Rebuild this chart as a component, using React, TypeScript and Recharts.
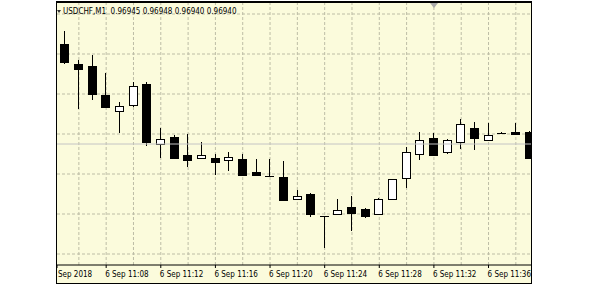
import React from "react";
import { ComposedChart, Bar, XAxis, YAxis, CartesianGrid, ReferenceLine } from "recharts";

// M1 candles 6 Sep 2018 11:05 .. 11:39
const minutes = ["11:05","11:06","11:07","11:08","11:09","11:10","11:11","11:12","11:13","11:14","11:15","11:16","11:17","11:18","11:19","11:20","11:21","11:22","11:23","11:24","11:25","11:26","11:27","11:28","11:29","11:30","11:31","11:32","11:33","11:34","11:35","11:36","11:37","11:38","11:39"];
const opens = [0.96990, 0.96980, 0.96979, 0.969645, 0.969565, 0.969595, 0.96970, 0.96940, 0.969435, 0.969345, 0.96933, 0.96933, 0.96932, 0.969325, 0.96926, 0.96924, 0.969235, 0.969125, 0.96915, 0.96904, 0.96905, 0.969085, 0.969075, 0.96905, 0.969125, 0.96923, 0.96935, 0.96943, 0.96936, 0.96941, 0.96948, 0.96942, 0.969455, 0.96946, 0.96946];
const highs = [0.969965, 0.96982, 0.969845, 0.969755, 0.96961, 0.96971, 0.96971, 0.96948, 0.969445, 0.96945, 0.96941, 0.96935, 0.96936, 0.96935, 0.969325, 0.969325, 0.969315, 0.96917, 0.969155, 0.96904, 0.969125, 0.96914, 0.96908, 0.96913, 0.969225, 0.969385, 0.96946, 0.969455, 0.969425, 0.969525, 0.96951, 0.969505, 0.96946, 0.969505, 0.969465];
const lows = [0.96980, 0.969575, 0.96962, 0.96958, 0.969455, 0.969585, 0.96939, 0.96933, 0.969325, 0.969285, 0.96933, 0.969245, 0.969265, 0.969245, 0.96924, 0.96924, 0.96912, 0.969125, 0.969035, 0.96888, 0.96905, 0.968965, 0.96903, 0.96905, 0.969125, 0.96918, 0.96932, 0.969345, 0.96935, 0.969375, 0.96937, 0.969415, 0.96945, 0.969445, 0.96933];
const closes = [0.96981, 0.969775, 0.96965, 0.969585, 0.96959, 0.96969, 0.96941, 0.969425, 0.96933, 0.96932, 0.969345, 0.96931, 0.969335, 0.969245, 0.969245, 0.96924, 0.96912, 0.96914, 0.96905, 0.96904, 0.96907, 0.969055, 0.96904, 0.969125, 0.969225, 0.96936, 0.96942, 0.969345, 0.96942, 0.96950, 0.96943, 0.969445, 0.969455, 0.96945, 0.96933];

const bidPrice = 0.9694;
const priceGrid = [0.96885, 0.96905, 0.96925, 0.96945, 0.96965, 0.96985, 0.97005];
const priceDomain = [0.968795, 0.97011];
const barDomain = [-0.6, 34.11];
const gridBars = [1, 3, 5, 7, 9, 11, 13, 15, 17, 19, 21, 23, 25, 27, 29, 31, 33];
const timeTickBars = [3, 7, 11, 15, 19, 23, 27, 31];
const timeTickLabels = ["6 Sep 11:08", "6 Sep 11:12", "6 Sep 11:16", "6 Sep 11:20", "6 Sep 11:24", "6 Sep 11:28", "6 Sep 11:32", "6 Sep 11:36"];
const firstLabel = "Sep 2018";
const headerText = "USDCHF,M1  0.96945 0.96948 0.96940 0.96940";

const data = minutes.map((m, i) => ({
  i,
  time: m,
  open: opens[i],
  high: highs[i],
  low: lows[i],
  close: closes[i],
  range: [lows[i], highs[i]],
}));

const FONT = "'DejaVu Sans Condensed', 'Liberation Sans', Arial, sans-serif";

const Candle = (props: any) => {
  const { x, y, width, height } = props;
  const p = props.payload || props;
  if (x == null || y == null) return null;
  const top = Math.min(y, y + height);
  const h = Math.abs(height);
  const span = p.high - p.low;
  const toY = (v: number) => (span === 0 ? top : top + ((p.high - v) / span) * h);
  const cx = x + width / 2;
  const bx = Math.round(cx - 4.5);
  const wx = bx + 4.5;
  const yo = toY(p.open);
  const yc = toY(p.close);
  const bt = Math.round(Math.min(yo, yc));
  const bb = Math.round(Math.max(yo, yc));
  const bull = p.close > p.open;
  const wTop = Math.round(top);
  const wBot = Math.round(top + h);
  return (
    <g>
      <line x1={wx} x2={wx} y1={wTop} y2={Math.max(wBot, wTop + 1)} stroke="#000" strokeWidth={1} />
      {bb - bt < 1 ? (
        <line x1={bx} x2={bx + 9} y1={bt + 0.5} y2={bt + 0.5} stroke="#000" strokeWidth={1} />
      ) : bull ? (
        <rect x={bx + 0.5} y={bt + 0.5} width={8} height={Math.max(bb - bt, 1)} fill="#fff" stroke="#000" strokeWidth={1} />
      ) : (
        <rect x={bx} y={bt} width={9} height={Math.max(bb - bt + 1, 1)} fill="#000" />
      )}
    </g>
  );
};

const TimeTick = (props: any) => {
  const { x, y, payload } = props;
  const v = payload.value;
  const idx = timeTickBars.indexOf(v);
  const label = idx >= 0 ? timeTickLabels[idx] : firstLabel;
  return (
    <text x={idx >= 0 ? x - 1 : x + 1} y={y + 7} fontSize={8} fontFamily={FONT} fill="#000" textAnchor="start">
      {label}
    </text>
  );
};

export default function App() {
  return (
    <div style={{ position: "absolute", left: 0, top: 0, width: 591, height: 287, background: "#fff", overflow: "hidden" }}>
      <div
        style={{
          position: "absolute",
          left: 56,
          top: 1,
          width: 476,
          height: 283,
          background: "#FBFBDC",
        }}
      />
      <div style={{ position: "absolute", left: 0, top: 0 }}>
        <ComposedChart width={591} height={287} data={data} margin={{ top: 2, right: 60, bottom: 4, left: 57 }}>
          <CartesianGrid
            stroke="#BDBDA6"
            strokeDasharray="3 2"
            verticalCoordinatesGenerator={(args: any) => {
              const xa = args && args.xAxis;
              if (xa && typeof xa.scale === "function") return gridBars.map((b) => xa.scale(b));
              const off = args.offset;
              return gridBars.map((b) => off.left + ((b - barDomain[0]) / (barDomain[1] - barDomain[0])) * off.width);
            }}
            horizontalCoordinatesGenerator={(args: any) => {
              const ya = args && args.yAxis;
              if (ya && typeof ya.scale === "function") return priceGrid.map((v) => ya.scale(v));
              const off = args.offset;
              return priceGrid.map((v) => off.top + ((priceDomain[1] - v) / (priceDomain[1] - priceDomain[0])) * off.height);
            }}
          />
          <XAxis
            dataKey="i"
            type="number"
            domain={barDomain}
            allowDataOverflow
            ticks={[barDomain[0], ...timeTickBars]}
            interval={0}
            height={18}
            tickSize={3}
            tickMargin={2}
            axisLine={{ stroke: "#000" }}
            tickLine={{ stroke: "#000" }}
            tick={<TimeTick />}
          />
          <YAxis
            type="number"
            domain={priceDomain}
            allowDataOverflow
            ticks={priceGrid}
            width={0}
            tick={false}
            axisLine={false}
            tickLine={false}
          />
          <ReferenceLine y={bidPrice} stroke="#C4C4C4" strokeWidth={1} />
          <Bar dataKey="range" barSize={9} shape={<Candle />} isAnimationActive={false} />
        </ComposedChart>
      </div>
      <div
        style={{
          position: "absolute",
          left: 56,
          top: 1,
          width: 476,
          height: 283,
          boxSizing: "border-box",
          border: "1px solid #000",
          borderTop: "2px solid #000",
          pointerEvents: "none",
        }}
      />
      <div
        style={{
          position: "absolute",
          left: 63,
          top: 7,
          fontSize: 8,
          lineHeight: "10px",
          fontFamily: FONT,
          color: "#000",
          whiteSpace: "pre",
        }}
      >
        {headerText}
      </div>
      <div
        style={{
          position: "absolute",
          left: 57,
          top: 10,
          width: 0,
          height: 0,
          borderLeft: "2px solid transparent",
          borderRight: "2px solid transparent",
          borderTop: "3px solid #333",
        }}
      />
      <div
        style={{
          position: "absolute",
          left: 430,
          top: 3,
          width: 0,
          height: 0,
          borderLeft: "4px solid transparent",
          borderRight: "4px solid transparent",
          borderTop: "5px solid #AAAAAA",
        }}
      />
    </div>
  );
}
